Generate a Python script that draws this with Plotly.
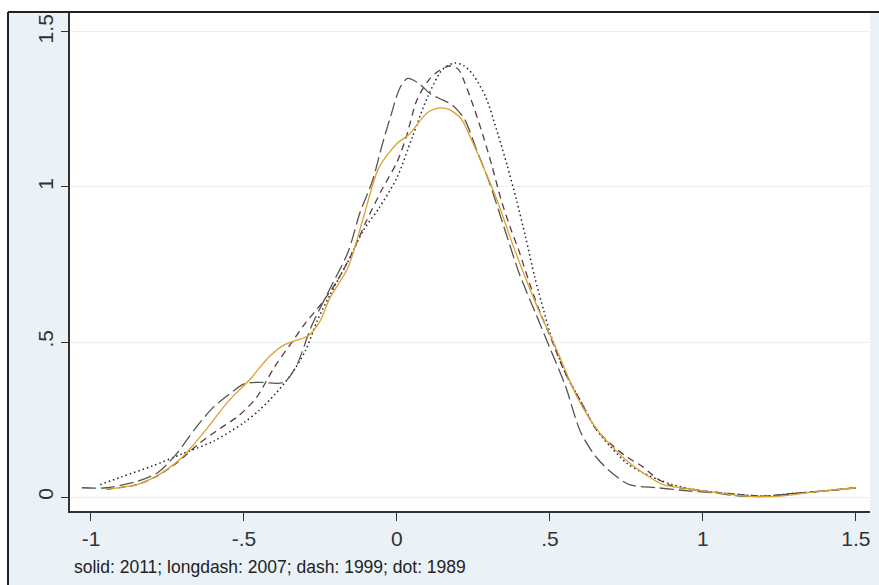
import plotly.graph_objects as go

# ---- data ----
x_2011 = [-0.95, -0.85, -0.8, -0.75, -0.7, -0.63, -0.55, -0.48, -0.42, -0.37, -0.33, -0.29, -0.25, -0.22,
          -0.16, -0.11, -0.06, 0.0, 0.04, 0.1, 0.14, 0.17, 0.21, 0.24, 0.28, 0.33, 0.38, 0.46, 0.52, 0.59,
          0.66, 0.76, 0.87, 0.93, 1.03, 1.14, 1.25, 1.36, 1.5]
y_2011 = [0.025, 0.04, 0.06, 0.09, 0.13, 0.21, 0.31, 0.38, 0.45, 0.49, 0.505, 0.52, 0.57, 0.64,
          0.74, 0.9, 1.06, 1.14, 1.17, 1.24, 1.255, 1.25, 1.22, 1.16, 1.07, 0.95, 0.81, 0.61, 0.48, 0.32,
          0.21, 0.11, 0.04, 0.03, 0.016, 0.003, 0.003, 0.016, 0.03]

x_2007 = [-1.03, -0.95, -0.85, -0.78, -0.72, -0.66, -0.6, -0.55, -0.5, -0.45, -0.37, -0.33, -0.28, -0.22,
          -0.16, -0.12, -0.08, -0.05, -0.02, 0.01, 0.035, 0.07, 0.11, 0.15, 0.18, 0.22, 0.26, 0.3, 0.35,
          0.4, 0.45, 0.5, 0.55, 0.6, 0.65, 0.7, 0.76, 0.85, 0.95, 1.05, 1.1, 1.2, 1.3, 1.4, 1.5]
y_2007 = [0.03, 0.03, 0.05, 0.08, 0.14, 0.22, 0.29, 0.33, 0.365, 0.37, 0.37, 0.42, 0.55, 0.67,
          0.79, 0.92, 1.02, 1.13, 1.23, 1.32, 1.35, 1.335, 1.3, 1.28, 1.265, 1.22, 1.12, 1.02, 0.87,
          0.72, 0.6, 0.48, 0.36, 0.21, 0.13, 0.08, 0.04, 0.03, 0.02, 0.012, 0.005, 0.002, 0.012, 0.02, 0.03]

x_1999 = [-0.95, -0.85, -0.78, -0.72, -0.65, -0.58, -0.52, -0.46, -0.4, -0.35, -0.3, -0.25, -0.2, -0.15,
          -0.1, -0.05, 0.0, 0.03, 0.065, 0.1, 0.13, 0.17, 0.2, 0.22, 0.25, 0.28, 0.31, 0.34, 0.37, 0.4,
          0.44, 0.47, 0.5, 0.55, 0.6, 0.65, 0.7, 0.75, 0.8, 0.85, 0.9, 1.0, 1.1, 1.2, 1.3, 1.4, 1.5]
y_1999 = [0.025, 0.04, 0.07, 0.11, 0.17, 0.22, 0.26, 0.32, 0.42, 0.49, 0.56, 0.62, 0.69, 0.78,
          0.89, 0.99, 1.08, 1.16, 1.28, 1.34, 1.37, 1.39, 1.38, 1.34, 1.26, 1.17, 1.07, 0.96, 0.87, 0.79,
          0.67, 0.59, 0.52, 0.4, 0.31, 0.22, 0.17, 0.13, 0.1, 0.06, 0.035, 0.02, 0.01, 0.003, 0.012, 0.02, 0.03]

x_1989 = [-0.97, -0.9, -0.8, -0.7, -0.6, -0.5, -0.45, -0.4, -0.35, -0.3, -0.26, -0.22, -0.16, -0.11,
          -0.06, 0.0, 0.05, 0.1, 0.15, 0.19, 0.22, 0.25, 0.29, 0.33, 0.36, 0.39, 0.42, 0.45, 0.48,
          0.5, 0.55, 0.6, 0.65, 0.7, 0.75, 0.8, 0.9, 1.0, 1.1, 1.2, 1.3, 1.4, 1.5]
y_1989 = [0.04, 0.065, 0.1, 0.14, 0.18, 0.24, 0.28, 0.33, 0.39, 0.47, 0.57, 0.65, 0.76, 0.86,
          0.93, 1.03, 1.16, 1.29, 1.38, 1.4, 1.39, 1.36, 1.29, 1.17, 1.07, 0.96, 0.84, 0.71, 0.6,
          0.53, 0.4, 0.31, 0.22, 0.16, 0.11, 0.08, 0.04, 0.02, 0.01, 0.003, 0.012, 0.02, 0.03]

x_ticks = [-1, -0.5, 0, 0.5, 1, 1.5]
x_tick_labels = ["-1", "-.5", "0", ".5", "1", "1.5"]
y_ticks = [0, 0.5, 1, 1.5]
y_tick_labels = ["0", ".5", "1", "1.5"]
note_text = "solid: 2011; longdash: 2007; dash: 1999; dot: 1989"

# ---- figure ----
fig = go.Figure()
series = [
    (x_1989, y_1989, "1.5px,3px", "#22223a", 1.5, "1989"),
    (x_1999, y_1999, "7px,5px", "#5a3a4e", 1.3, "1999"),
    (x_2007, y_2007, "14px,5px", "#555548", 1.3, "2007"),
    (x_2011, y_2011, "solid", "#D9A22E", 1.3, "2011"),
]
for xs, ys, dash, col, lw, name in series:
    fig.add_trace(go.Scatter(x=xs, y=ys, mode="lines", name=name,
                             line=dict(color=col, width=lw, dash=dash, shape="spline", smoothing=0.8)))

W, H = 879, 585
ml, mr, mt, mb = 70, 9, 13, 74
pw, ph = W - ml - mr, H - mt - mb

def px2paper_x(px):
    return (px - ml) / pw

def py2paper_y(py):
    return (H - mb - py) / ph

shapes = [
    dict(type="rect", xref="paper", yref="paper", layer="above",
         x0=px2paper_x(-5), x1=px2paper_x(W + 5), y0=py2paper_y(12), y1=py2paper_y(-5),
         fillcolor="white", line=dict(width=0)),
    dict(type="rect", xref="paper", yref="paper", layer="above",
         x0=px2paper_x(-5), x1=px2paper_x(8), y0=py2paper_y(H + 5), y1=py2paper_y(-5),
         fillcolor="white", line=dict(width=0)),
    dict(type="line", xref="paper", yref="paper", layer="above",
         x0=px2paper_x(8), x1=px2paper_x(W + 5), y0=py2paper_y(12), y1=py2paper_y(12),
         line=dict(color="#222222", width=2)),
    dict(type="line", xref="paper", yref="paper", layer="above",
         x0=px2paper_x(8), x1=px2paper_x(8), y0=py2paper_y(12), y1=py2paper_y(H + 5),
         line=dict(color="#222222", width=2)),
]

fig.update_layout(
    width=W, height=H,
    margin=dict(l=ml, r=mr, t=mt, b=mb, pad=0),
    paper_bgcolor="#EAF2F8",
    plot_bgcolor="white",
    showlegend=False,
    font=dict(family="Liberation Sans, Arial, sans-serif", color="#222222"),
    shapes=shapes,
    annotations=[dict(text=note_text, xref="paper", yref="paper",
                      x=px2paper_x(72), y=py2paper_y(567), xanchor="left", yanchor="middle",
                      showarrow=False, font=dict(size=17.5, color="#222222"))],
)
fig.update_xaxes(range=[-1.0686, 1.546], tickvals=x_ticks, ticktext=x_tick_labels,
                 showline=True, linecolor="#333333", linewidth=1.5, ticks="outside", ticklen=8,
                 tickcolor="#333333", tickwidth=1.3, showgrid=False, zeroline=False,
                 tickfont=dict(size=21, color="#333333"))
fig.update_yaxes(range=[-0.045, 1.561], tickvals=y_ticks, ticktext=y_tick_labels,
                 showline=True, linecolor="#333333", linewidth=1.5, ticks="outside", ticklen=7,
                 tickcolor="#333333", tickwidth=1.3, showgrid=True, gridcolor="#ECEFF1", gridwidth=1,
                 zeroline=False, tickangle=-90, tickfont=dict(size=21, color="#333333"))

fig.write_html("out.html")
